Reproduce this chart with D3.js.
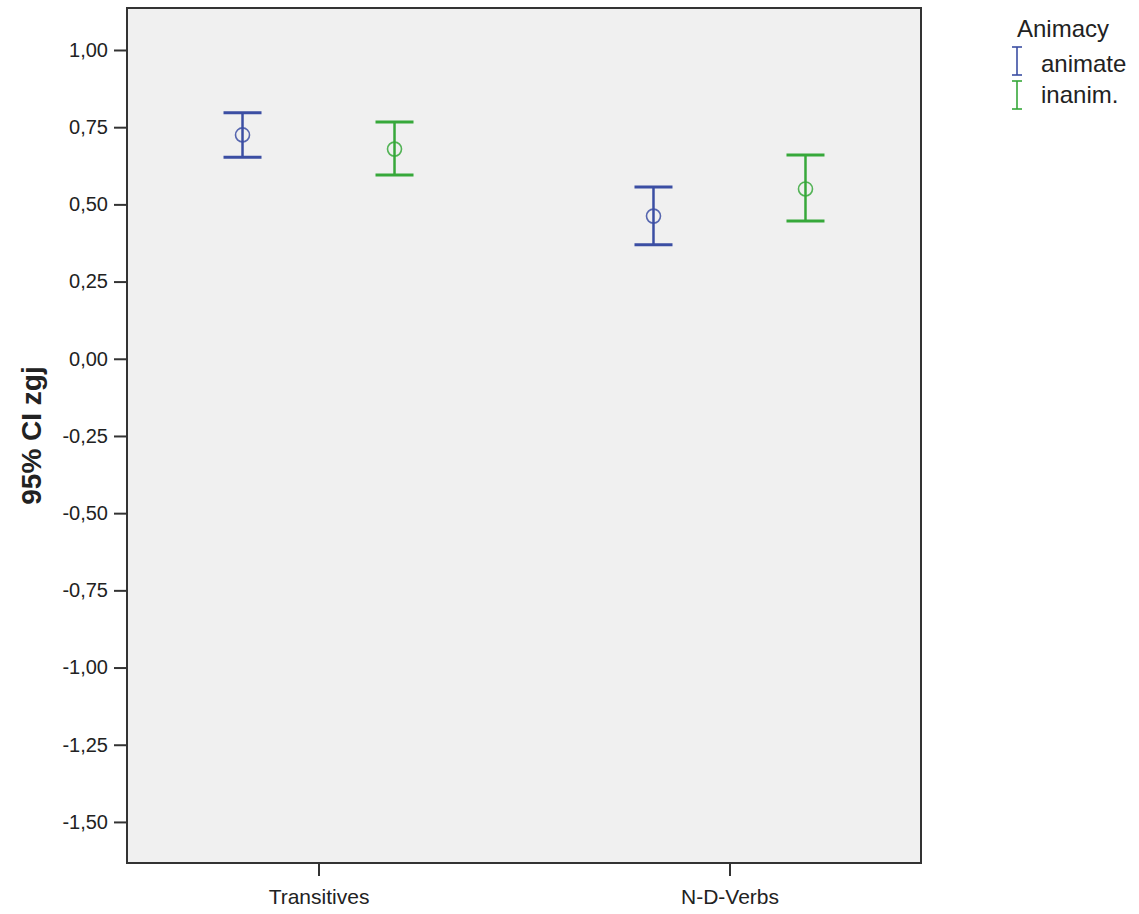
<!DOCTYPE html>
<html>
<head>
<meta charset="utf-8">
<script src="https://cdn.jsdelivr.net/npm/d3@7"></script>
<style>
  body { margin: 0; background: #fff; }
  svg { display: block; }
  text { font-family: Arial, "Liberation Sans", sans-serif; fill: #222; }
</style>
</head>
<body>
<svg id="chart" width="1139" height="914"></svg>
<script>
const categories = ["Transitives", "N-D-Verbs"];
const seriesNames = ["animate", "inanim."];
const seriesColors = ["#3b4ea3", "#36a83a"];
// mean, lower, upper per series per category
const animateMean  = [0.725, 0.462];
const animateLower = [0.653, 0.369];
const animateUpper = [0.797, 0.556];
const inanimMean   = [0.679, 0.550];
const inanimLower  = [0.595, 0.446];
const inanimUpper  = [0.767, 0.660];
const yTicks = [1.00, 0.75, 0.50, 0.25, 0.00, -0.25, -0.50, -0.75, -1.00, -1.25, -1.50];
const yDomain = [-1.633, 1.136];
const legendTitle = "Animacy";
const yTitle = "95% CI zgj";

const series = [
  { name: seriesNames[0], color: seriesColors[0], mean: animateMean, lo: animateLower, hi: animateUpper },
  { name: seriesNames[1], color: seriesColors[1], mean: inanimMean, lo: inanimLower, hi: inanimUpper }
];

const svg = d3.select("#chart");
const pL = 127, pR = 921, pT = 8, pB = 863;
const FONT = "Arial, 'Liberation Sans', sans-serif";

const x = d3.scalePoint().domain(categories).range([pL, pR]).padding(0.466);
const xs = d3.scalePoint().domain(seriesNames).range([-76, 76]);
const y = d3.scaleLinear().domain(yDomain).range([pB, pT]);

// plot background
svg.append("rect").attr("x", pL).attr("y", pT).attr("width", pR - pL).attr("height", pB - pT)
  .attr("fill", "#f0f0f0").attr("stroke", "#333").attr("stroke-width", 2);

// y axis
const fmt = d => d3.format(".2f")(d).replace(".", ",").replace("−", "-");
const yAxis = svg.append("g").attr("transform", `translate(${pL},0)`)
  .call(d3.axisLeft(y).tickValues(yTicks).tickFormat(fmt).tickSize(13).tickPadding(6));
yAxis.select(".domain").remove();
yAxis.selectAll(".tick line").attr("stroke", "#333").attr("stroke-width", 2);
yAxis.selectAll(".tick text").attr("font-size", 20).attr("fill", "#222").attr("font-family", FONT);

// x axis
const xAxis = svg.append("g").attr("transform", `translate(0,${pB})`)
  .call(d3.axisBottom(x).tickSize(13).tickPadding(13));
xAxis.select(".domain").remove();
xAxis.selectAll(".tick line").attr("stroke", "#333").attr("stroke-width", 2);
xAxis.selectAll(".tick text").attr("font-size", 21).attr("fill", "#222").attr("font-family", FONT);

// y title
svg.append("text").attr("transform", `translate(41,${(pT + pB) / 2}) rotate(-90)`)
  .attr("text-anchor", "middle").attr("font-size", 28).attr("font-weight", "bold").attr("fill", "#111").text(yTitle);

// error bars
const capW = 19;
series.forEach(s => {
  const g = svg.append("g").attr("stroke", s.color).attr("fill", "none");
  categories.forEach((c, i) => {
    const cx = x(c) + xs(s.name);
    g.append("line").attr("x1", cx).attr("x2", cx).attr("y1", y(s.lo[i])).attr("y2", y(s.hi[i])).attr("stroke-width", 2.5);
    g.append("line").attr("x1", cx - capW).attr("x2", cx + capW).attr("y1", y(s.hi[i])).attr("y2", y(s.hi[i])).attr("stroke-width", 3);
    g.append("line").attr("x1", cx - capW).attr("x2", cx + capW).attr("y1", y(s.lo[i])).attr("y2", y(s.lo[i])).attr("stroke-width", 3);
    g.append("circle").attr("cx", cx).attr("cy", y(s.mean[i])).attr("r", 7).attr("stroke-width", 1.6)
      .attr("stroke-opacity", 0.85);
  });
});

// legend
const lg = svg.append("g");
lg.append("text").attr("x", 1017).attr("y", 37).attr("font-size", 24).text(legendTitle);
series.forEach((s, i) => {
  const yTop = 47 + i * 34, yBot = yTop + 28;
  const gx = 1017;
  lg.append("line").attr("x1", gx).attr("x2", gx).attr("y1", yTop).attr("y2", yBot).attr("stroke", s.color).attr("stroke-width", 1.6);
  lg.append("line").attr("x1", gx - 5).attr("x2", gx + 5).attr("y1", yTop).attr("y2", yTop).attr("stroke", s.color).attr("stroke-width", 1.6);
  lg.append("line").attr("x1", gx - 5).attr("x2", gx + 5).attr("y1", yBot).attr("y2", yBot).attr("stroke", s.color).attr("stroke-width", 1.6);
  lg.append("text").attr("x", 1041).attr("y", 72 + i * 31).attr("font-size", 24).text(s.name);
});
</script>
</body>
</html>
